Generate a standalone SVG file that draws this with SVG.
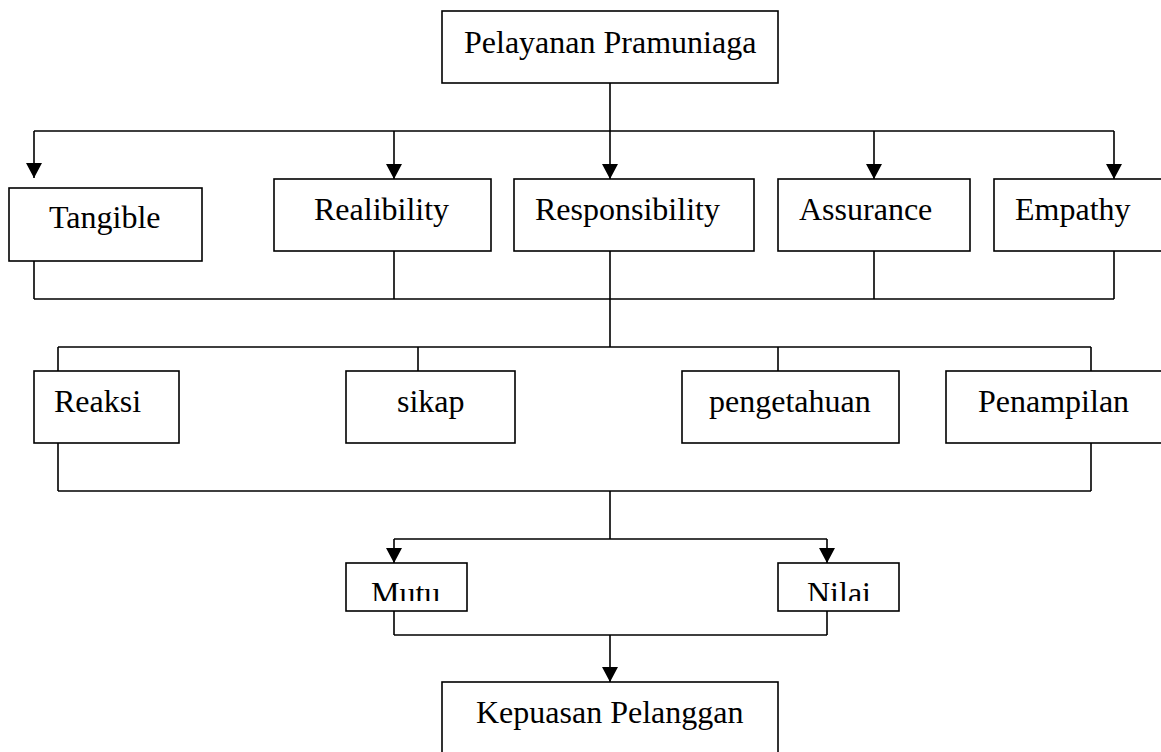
<svg xmlns="http://www.w3.org/2000/svg" width="1161" height="752" viewBox="0 0 1161 752">
<style>
.box{fill:#fff;stroke:#000;stroke-width:1.6}
.lbl{font-family:"Liberation Serif","Times New Roman",serif;font-size:32px;fill:#000}
.ln{fill:none;stroke:#000;stroke-width:1.6}
</style>
<defs>
<marker id="ah" markerUnits="userSpaceOnUse" markerWidth="16" markerHeight="16" refX="15" refY="8" orient="auto" overflow="visible">
<path d="M0,0 L15,8 L0,16 z" fill="#000"/>
</marker>
<clipPath id="clipMutu"><rect x="340" y="560" width="130" height="41"/></clipPath>
<clipPath id="clipNilai"><rect x="772" y="560" width="130" height="41"/></clipPath>
</defs>
<rect width="1161" height="752" fill="#fff"/>
<g id="connectors">
<path class="ln" d="M610,83 V131 M34,131 H1114"/>
<path class="ln" d="M34,131 V178" marker-end="url(#ah)"/>
<path class="ln" d="M394,131 V179" marker-end="url(#ah)"/>
<path class="ln" d="M610,131 V179" marker-end="url(#ah)"/>
<path class="ln" d="M874,131 V179" marker-end="url(#ah)"/>
<path class="ln" d="M1114,131 V179" marker-end="url(#ah)"/>
<path class="ln" d="M34,261 V299 M394,251 V299 M874,251 V299 M1114,251 V299 M34,299 H1114 M610,251 V347"/>
<path class="ln" d="M58,347 H1091 M58,347 V371 M418,347 V371 M778,347 V371 M1091,347 V371"/>
<path class="ln" d="M58,443 V491 M1091,443 V491 M58,491 H1091 M610,491 V539 M394,539 H827"/>
<path class="ln" d="M394,539 V563" marker-end="url(#ah)"/>
<path class="ln" d="M827,539 V563" marker-end="url(#ah)"/>
<path class="ln" d="M394,611 V635 M827,611 V635 M394,635 H827"/>
<path class="ln" d="M610,635 V682" marker-end="url(#ah)"/>
</g>
<g id="node-pelayanan"><rect class="box" x="442" y="11" width="336" height="72"/><text class="lbl" x="464" y="53">Pelayanan Pramuniaga</text></g>
<g id="node-tangible"><rect class="box" x="9" y="188" width="193" height="73"/><text class="lbl" x="49" y="228">Tangible</text></g>
<g id="node-realibility"><rect class="box" x="274" y="179" width="217" height="72"/><text class="lbl" x="314" y="220">Realibility</text></g>
<g id="node-responsibility"><rect class="box" x="514" y="179" width="240" height="72"/><text class="lbl" x="535" y="220">Responsibility</text></g>
<g id="node-assurance"><rect class="box" x="778" y="179" width="192" height="72"/><text class="lbl" x="799" y="220">Assurance</text></g>
<g id="node-empathy"><rect class="box" x="994" y="179" width="180" height="72"/><text class="lbl" x="1015" y="220">Empathy</text></g>
<g id="node-reaksi"><rect class="box" x="34" y="371" width="145" height="72"/><text class="lbl" x="54" y="412">Reaksi</text></g>
<g id="node-sikap"><rect class="box" x="346" y="371" width="169" height="72"/><text class="lbl" x="397" y="412">sikap</text></g>
<g id="node-pengetahuan"><rect class="box" x="682" y="371" width="217" height="72"/><text class="lbl" x="709" y="412">pengetahuan</text></g>
<g id="node-penampilan"><rect class="box" x="946" y="371" width="230" height="72"/><text class="lbl" x="978" y="412">Penampilan</text></g>
<g id="node-mutu"><rect class="box" x="346" y="563" width="121" height="48"/><text class="lbl" x="371" y="604" clip-path="url(#clipMutu)">Mutu</text></g>
<g id="node-nilai"><rect class="box" x="778" y="563" width="121" height="48"/><text class="lbl" x="807" y="604" clip-path="url(#clipNilai)">Nilai</text></g>
<g id="node-kepuasan"><rect class="box" x="442" y="682" width="336" height="80"/><text class="lbl" x="476" y="723">Kepuasan Pelanggan</text></g>
</svg>
